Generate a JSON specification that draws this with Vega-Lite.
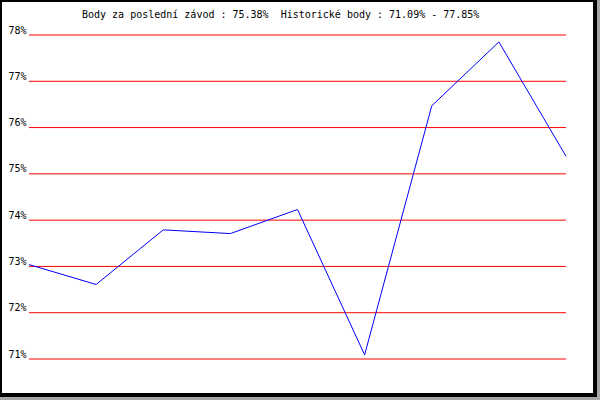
{
  "$schema": "https://vega.github.io/schema/vega-lite/v6.json",
  "width": 595,
  "height": 395,
  "autosize": {"type": "none"},
  "padding": {"left": 0, "top": 0, "right": 5, "bottom": 5},
  "background": "#a6a6a6",
  "config": {
    "view": {"fill": "white", "stroke": "black", "strokeWidth": 4},
    "font": "DejaVu Sans Mono"
  },
  "title": {
    "text": "Body za poslední závod : 75.38%\u00a0 Historické body : 71.09% - 77.85%",
    "anchor": "start",
    "frame": "group",
    "dx": 82,
    "dy": 13,
    "offset": -17,
    "baseline": "bottom",
    "font": "DejaVu Sans Mono",
    "fontSize": 10,
    "fontWeight": "normal",
    "color": "black"
  },
  "encoding": {
    "y": {
      "field": "v",
      "type": "quantitative",
      "scale": {"domain": [71, 78], "range": [359, 35], "zero": false, "nice": false},
      "axis": {
        "title": null,
        "values": [71, 72, 73, 74, 75, 76, 77, 78],
        "labelExpr": "datum.value + '%'",
        "grid": false,
        "domain": false,
        "ticks": false,
        "labelPadding": 3,
        "offset": -29,
        "labelBaseline": "alphabetic",
        "labelOffset": -2,
        "labelFont": "DejaVu Sans Mono",
        "labelFontSize": 10,
        "labelColor": "black"
      }
    }
  },
  "layer": [
    {
      "data": {"values": [{"v": 71}, {"v": 72}, {"v": 73}, {"v": 74}, {"v": 75}, {"v": 76}, {"v": 77}, {"v": 78}]},
      "mark": {"type": "rule", "color": "#ff0000", "strokeWidth": 1},
      "encoding": {
        "x": {"datum": 1, "type": "quantitative", "scale": {"domain": [1, 9], "range": [29, 566], "zero": false, "nice": false}, "axis": null},
        "x2": {"datum": 9}
      }
    },
    {
      "data": {"values": [
        {"i": 1, "v": 73.04},
        {"i": 2, "v": 72.61},
        {"i": 3, "v": 73.79},
        {"i": 4, "v": 73.71},
        {"i": 5, "v": 74.23},
        {"i": 6, "v": 71.09},
        {"i": 7, "v": 76.47},
        {"i": 8, "v": 77.85},
        {"i": 9, "v": 75.38}
      ]},
      "mark": {"type": "line", "color": "#0000ff", "strokeWidth": 1},
      "encoding": {
        "x": {"field": "i", "type": "quantitative", "axis": null}
      }
    }
  ]
}
